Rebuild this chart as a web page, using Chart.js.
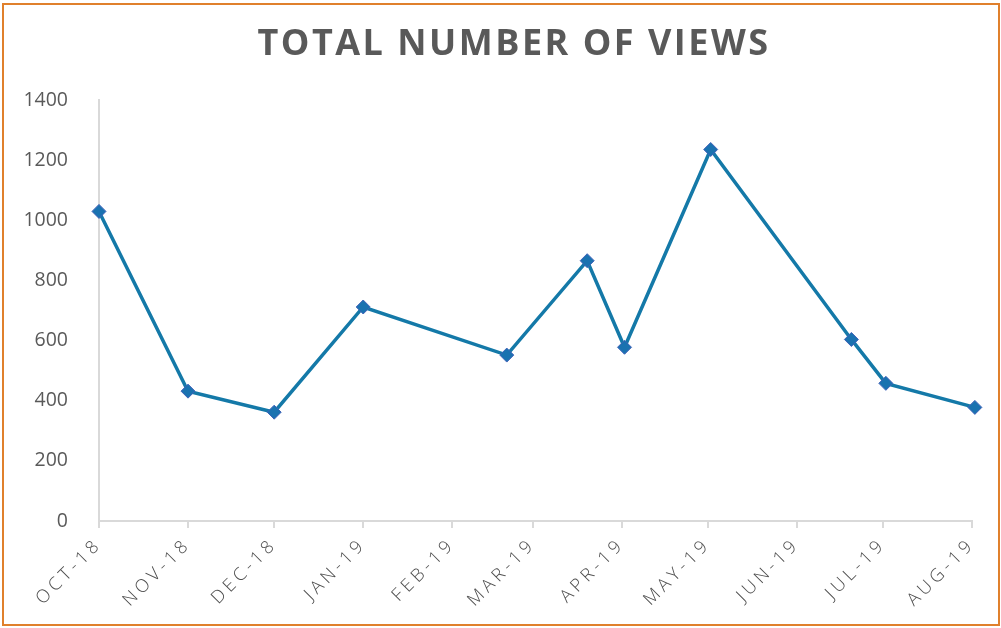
<!DOCTYPE html>
<html>
<head>
<meta charset="utf-8">
<script src="https://cdn.jsdelivr.net/npm/chart.js@4/dist/chart.umd.min.js"></script>
<style>
  html, body { margin: 0; padding: 0; background: #fff; }
  #frame { position: absolute; left: 2px; top: 3px; width: 998px; height: 623px; border: 2.5px solid #E0802C; box-sizing: border-box; }
  #wrap { position: absolute; left: 0; top: 0; width: 1001px; height: 628px; }
</style>
</head>
<body>
<div id="frame"></div>
<div id="wrap"><canvas id="c" width="1001" height="628"></canvas></div>
<script>
// ---- data ----
const pointDates = ['2018-10-01','2018-11-01','2018-12-01','2019-01-01','2019-02-20','2019-03-20','2019-04-02','2019-05-02','2019-06-20','2019-07-02','2019-08-02'];
const views = [1030, 432, 362, 712, 552, 866, 578, 1236, 604, 458, 378];
const tickDates = ['2018-10-01','2018-11-01','2018-12-01','2019-01-01','2019-02-01','2019-03-01','2019-04-01','2019-05-01','2019-06-01','2019-07-01','2019-08-01'];
const tickLabels = ['OCT-18','NOV-18','DEC-18','JAN-19','FEB-19','MAR-19','APR-19','MAY-19','JUN-19','JUL-19','AUG-19'];
const yTicks = [0, 200, 400, 600, 800, 1000, 1200, 1400];
const chartTitle = 'TOTAL NUMBER OF VIEWS';

const DAY = 86400000;
const origin = Date.parse(tickDates[0] + 'T00:00:00Z');
const dayOf = s => Math.round((Date.parse(s + 'T00:00:00Z') - origin) / DAY);
const tickDays = tickDates.map(dayOf);
const points = pointDates.map((d, i) => ({ x: dayOf(d), y: views[i] }));

const gray = '#595959';
const spacingPlugin = {
  id: 'spacing',
  beforeDraw(chart) {
    chart.ctx.letterSpacing = '0px';
    const t = chart.titleBlock;
    if (t && !t._wrapped) {
      const orig = t.draw.bind(t);
      t.draw = function () {
        const ctx = this.ctx; ctx.save();
        ctx.letterSpacing = '2.5px'; ctx.translate(28, 0);
        orig(); ctx.restore();
      };
      t._wrapped = true;
    }
    const x = chart.scales.x;
    if (x && !x._wrapped) {
      const o = x.drawLabels.bind(x);
      x.drawLabels = function (a) { const ctx = this.ctx; const prev = ctx.letterSpacing; ctx.letterSpacing = '4px'; o(a); ctx.letterSpacing = prev; };
      x._wrapped = true;
    }
  },
  afterDraw(chart) { chart.ctx.letterSpacing = '0px'; }
};

new Chart(document.getElementById('c'), {
  type: 'line',
  data: {
    datasets: [{
      data: points,
      clip: false,
      borderColor: '#1479A8',
      borderWidth: 3.5,
      pointStyle: 'rectRot',
      pointRadius: 7,
      pointHoverRadius: 7,
      pointBackgroundColor: '#1A72B0',
      pointBorderColor: '#4062B8',
      pointBorderWidth: 1,
      tension: 0,
      fill: false
    }]
  },
  plugins: [spacingPlugin],
  options: {
    responsive: false,
    animation: false,
    layout: { padding: { left: 0, right: 29, top: 0, bottom: 0 } },
    plugins: {
      legend: { display: false },
      tooltip: { enabled: false },
      title: {
        display: true,
        text: chartTitle,
        color: gray,
        font: { family: 'Open Sans', size: 36, weight: 'bold' },
        padding: { top: 23, bottom: 34 }
      }
    },
    scales: {
      x: {
        type: 'linear',
        min: tickDays[0],
        max: tickDays[tickDays.length - 1],
        afterBuildTicks(s) { s.ticks = tickDays.map(v => ({ value: v })); },
        afterFit(s) { s.height = 107; },
        grid: { display: true, drawOnChartArea: false, drawTicks: true, tickLength: 7, color: '#D9D9D9', lineWidth: 2 },
        border: { display: true, color: '#D9D9D9', width: 2 },
        ticks: {
          autoSkip: false,
          minRotation: 45,
          maxRotation: 45,
          color: '#4F4F4F',
          padding: 6,
          font: { family: 'Open Sans', size: 18, weight: 300 },
          callback(v) { const i = tickDays.indexOf(v); return i >= 0 ? tickLabels[i] : ''; }
        }
      },
      y: {
        min: 0,
        max: 1400,
        afterBuildTicks(s) { s.ticks = yTicks.map(v => ({ value: v })); },
        afterFit(s) { s.width = 99; },
        grid: { display: false },
        border: { display: true, color: '#D9D9D9', width: 2 },
        ticks: {
          color: gray,
          padding: 23,
          font: { family: 'Open Sans', size: 19.5 },
          callback(v) { return String(v); }
        }
      }
    }
  }
});
</script>
</body>
</html>
